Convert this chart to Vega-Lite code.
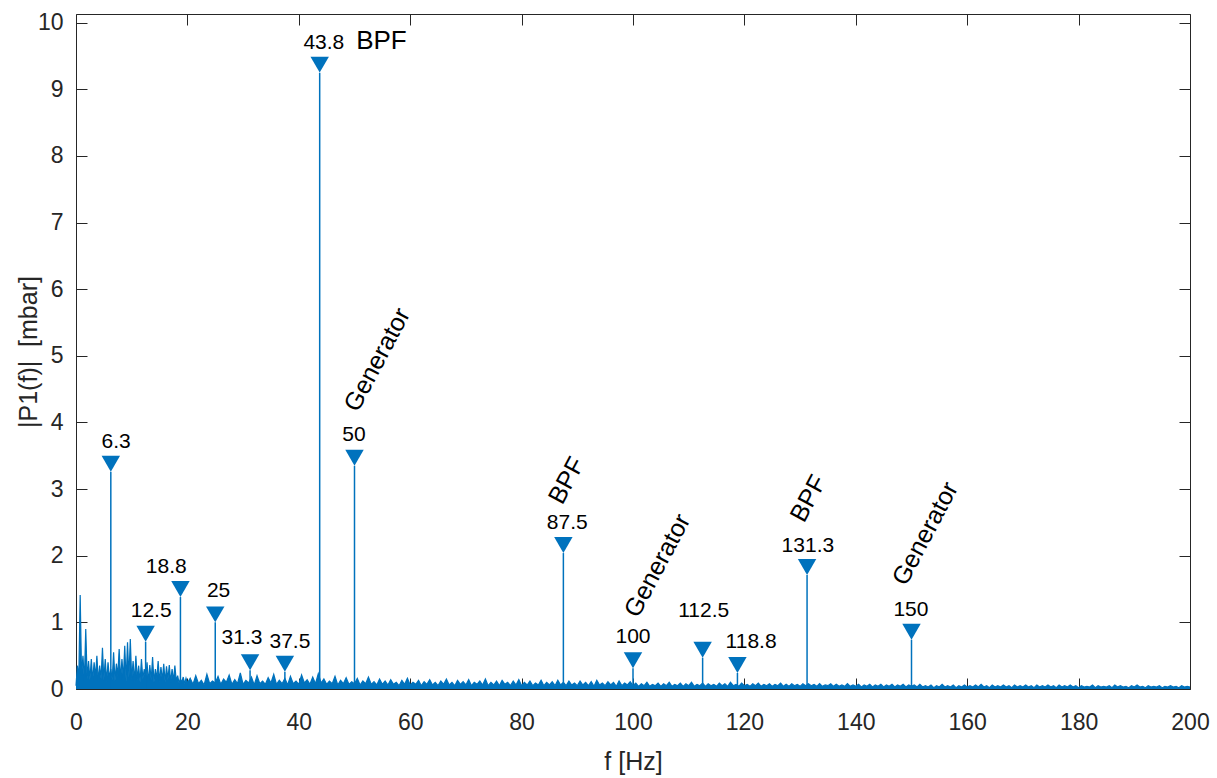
{
  "$schema": "https://vega.github.io/schema/vega-lite/v6.json",
  "width": 1114,
  "height": 675,
  "autosize": {"type": "none"},
  "padding": {"left": 76, "top": 14, "right": 27, "bottom": 89},
  "background": "white",
  "config": {
    "view": {"stroke": null},
    "font": "Liberation Sans",
    "axis": {
      "domainColor": "#262626",
      "tickColor": "#262626",
      "labelColor": "#262626",
      "titleColor": "#262626",
      "domainWidth": 1,
      "tickWidth": 1,
      "tickSize": -11,
      "grid": false,
      "labelFontSize": 23,
      "titleFontSize": 25,
      "titleFontWeight": "normal",
      "labelFlush": false,
      "labelOverlap": false
    }
  },
  "datasets": {
    "spectrum": [
      {"f":0,"p":0.05},{"f":0.25,"p":0.35},{"f":0.5,"p":0.15},{"f":0.75,"p":1.41},{"f":1,"p":0.2},{"f":1.25,"p":0.5},{"f":1.5,"p":0.12},{"f":1.75,"p":0.9},{"f":2,"p":0.15},{"f":2.25,"p":0.42},{"f":2.5,"p":0.14},{"f":2.75,"p":0.45},{"f":3,"p":0.12},{"f":3.25,"p":0.4},{"f":3.5,"p":0.18},{"f":3.75,"p":0.5},{"f":4,"p":0.12},{"f":4.25,"p":0.35},{"f":4.5,"p":0.15},{"f":4.75,"p":0.62},{"f":5,"p":0.13},{"f":5.25,"p":0.45},{"f":5.5,"p":0.11},{"f":5.75,"p":0.4},{"f":6,"p":0.16},{"f":6.25,"p":0.3},{"f":6.5,"p":0.13},{"f":6.75,"p":0.55},{"f":7,"p":0.12},{"f":7.25,"p":0.38},{"f":7.5,"p":0.2},{"f":7.75,"p":0.6},{"f":8,"p":0.13},{"f":8.25,"p":0.45},{"f":8.5,"p":0.15},{"f":8.75,"p":0.65},{"f":9,"p":0.11},{"f":9.25,"p":0.7},{"f":9.5,"p":0.17},{"f":9.75,"p":0.75},{"f":10,"p":0.13},{"f":10.25,"p":0.42},{"f":10.5,"p":0.11},{"f":10.75,"p":0.5},{"f":11,"p":0.14},{"f":11.25,"p":0.35},{"f":11.5,"p":0.1},{"f":11.75,"p":0.45},{"f":12,"p":0.15},{"f":12.25,"p":0.3},{"f":12.5,"p":0.12},{"f":12.75,"p":0.4},{"f":13,"p":0.1},{"f":13.25,"p":0.36},{"f":13.5,"p":0.13},{"f":13.75,"p":0.48},{"f":14,"p":0.1},{"f":14.25,"p":0.3},{"f":14.5,"p":0.15},{"f":14.75,"p":0.42},{"f":15,"p":0.11},{"f":15.25,"p":0.33},{"f":15.5,"p":0.13},{"f":15.75,"p":0.38},{"f":16,"p":0.1},{"f":16.25,"p":0.34},{"f":16.5,"p":0.14},{"f":16.75,"p":0.36},{"f":17,"p":0.1},{"f":17.25,"p":0.3},{"f":17.5,"p":0.12},{"f":17.75,"p":0.35},{"f":18,"p":0.12},{"f":18.25,"p":0.2},{"f":18.5,"p":0.09},{"f":18.75,"p":0.15},{"f":19,"p":0.1},{"f":19.25,"p":0.18},{"f":19.5,"p":0.08},{"f":19.75,"p":0.16},{"f":20,"p":0.09},
      {"f":20.5,"p":0.16},{"f":21,"p":0.07},{"f":21.5,"p":0.2},{"f":22,"p":0.08},{"f":22.5,"p":0.13},{"f":23,"p":0.06},{"f":23.5,"p":0.22},{"f":24,"p":0.08},{"f":24.5,"p":0.12},{"f":25,"p":0.09},{"f":25.5,"p":0.19},{"f":26,"p":0.07},{"f":26.5,"p":0.15},{"f":27,"p":0.1},{"f":27.5,"p":0.21},{"f":28,"p":0.07},{"f":28.5,"p":0.14},{"f":29,"p":0.08},{"f":29.5,"p":0.24},{"f":30,"p":0.07},{"f":30.5,"p":0.13},{"f":31,"p":0.09},{"f":31.5,"p":0.18},{"f":32,"p":0.06},{"f":32.5,"p":0.2},{"f":33,"p":0.08},{"f":33.5,"p":0.12},{"f":34,"p":0.07},{"f":34.5,"p":0.17},{"f":35,"p":0.09},{"f":35.5,"p":0.22},{"f":36,"p":0.07},{"f":36.5,"p":0.13},{"f":37,"p":0.08},{"f":37.5,"p":0.16},{"f":38,"p":0.06},{"f":38.5,"p":0.19},{"f":39,"p":0.08},{"f":39.5,"p":0.12},{"f":40,"p":0.07},{"f":40.5,"p":0.21},{"f":41,"p":0.09},{"f":41.5,"p":0.14},{"f":42,"p":0.07},{"f":42.5,"p":0.18},{"f":43,"p":0.08},{"f":43.5,"p":0.23},{"f":44,"p":0.09},{"f":44.5,"p":0.15},{"f":45,"p":0.07},{"f":45.5,"p":0.12},{"f":46,"p":0.08},{"f":46.5,"p":0.19},{"f":47,"p":0.06},{"f":47.5,"p":0.13},{"f":48,"p":0.08},{"f":48.5,"p":0.17},{"f":49,"p":0.07},{"f":49.5,"p":0.11},{"f":50,"p":0.08},{"f":50.5,"p":0.16},{"f":51,"p":0.06},{"f":51.5,"p":0.12},{"f":52,"p":0.08},{"f":52.5,"p":0.18},{"f":53,"p":0.07},{"f":53.5,"p":0.11},{"f":54,"p":0.06},{"f":54.5,"p":0.15},{"f":55,"p":0.07},
      {"f":55.5,"p":0.12},{"f":56,"p":0.06},{"f":56.5,"p":0.14},{"f":57,"p":0.07},{"f":57.5,"p":0.1},{"f":58,"p":0.05},{"f":58.5,"p":0.13},{"f":59,"p":0.07},{"f":59.5,"p":0.16},{"f":60,"p":0.06},{"f":60.5,"p":0.1},{"f":61,"p":0.07},{"f":61.5,"p":0.13},{"f":62,"p":0.05},{"f":62.5,"p":0.11},{"f":63,"p":0.07},{"f":63.5,"p":0.14},{"f":64,"p":0.06},{"f":64.5,"p":0.1},{"f":65,"p":0.05},{"f":65.5,"p":0.12},{"f":66,"p":0.07},{"f":66.5,"p":0.15},{"f":67,"p":0.06},{"f":67.5,"p":0.1},{"f":68,"p":0.05},{"f":68.5,"p":0.13},{"f":69,"p":0.07},{"f":69.5,"p":0.11},{"f":70,"p":0.06},{"f":70.5,"p":0.14},{"f":71,"p":0.05},{"f":71.5,"p":0.1},{"f":72,"p":0.07},{"f":72.5,"p":0.12},{"f":73,"p":0.06},{"f":73.5,"p":0.15},{"f":74,"p":0.05},{"f":74.5,"p":0.1},{"f":75,"p":0.06},{"f":75.5,"p":0.12},{"f":76,"p":0.05},{"f":76.5,"p":0.13},{"f":77,"p":0.07},{"f":77.5,"p":0.1},{"f":78,"p":0.05},{"f":78.5,"p":0.12},{"f":79,"p":0.06},{"f":79.5,"p":0.14},{"f":80,"p":0.05},{"f":80.5,"p":0.1},{"f":81,"p":0.06},{"f":81.5,"p":0.12},{"f":82,"p":0.05},{"f":82.5,"p":0.09},{"f":83,"p":0.06},{"f":83.5,"p":0.13},{"f":84,"p":0.05},{"f":84.5,"p":0.1},{"f":85,"p":0.06},{"f":85.5,"p":0.11},{"f":86,"p":0.05},{"f":86.5,"p":0.13},{"f":87,"p":0.06},{"f":87.5,"p":0.1},{"f":88,"p":0.05},{"f":88.5,"p":0.12},{"f":89,"p":0.06},{"f":89.5,"p":0.09},{"f":90,"p":0.05},{"f":90.5,"p":0.12},{"f":91,"p":0.06},{"f":91.5,"p":0.1},{"f":92,"p":0.05},{"f":92.5,"p":0.11},{"f":93,"p":0.04},{"f":93.5,"p":0.13},{"f":94,"p":0.06},{"f":94.5,"p":0.09},{"f":95,"p":0.05},{"f":95.5,"p":0.11},{"f":96,"p":0.06},{"f":96.5,"p":0.1},{"f":97,"p":0.04},{"f":97.5,"p":0.12},{"f":98,"p":0.05},{"f":98.5,"p":0.09},{"f":99,"p":0.06},{"f":99.5,"p":0.11},{"f":100,"p":0.05},
      {"f":100.5,"p":0.09},{"f":101,"p":0.04},{"f":101.5,"p":0.08},{"f":102,"p":0.05},{"f":102.5,"p":0.1},{"f":103,"p":0.04},{"f":103.5,"p":0.07},{"f":104,"p":0.05},{"f":104.5,"p":0.09},{"f":105,"p":0.04},{"f":105.5,"p":0.08},{"f":106,"p":0.05},{"f":106.5,"p":0.1},{"f":107,"p":0.04},{"f":107.5,"p":0.07},{"f":108,"p":0.05},{"f":108.5,"p":0.09},{"f":109,"p":0.04},{"f":109.5,"p":0.08},{"f":110,"p":0.05},{"f":110.5,"p":0.1},{"f":111,"p":0.04},{"f":111.5,"p":0.07},{"f":112,"p":0.05},{"f":112.5,"p":0.09},{"f":113,"p":0.04},{"f":113.5,"p":0.08},{"f":114,"p":0.05},{"f":114.5,"p":0.07},{"f":115,"p":0.04},{"f":115.5,"p":0.09},{"f":116,"p":0.05},{"f":116.5,"p":0.08},{"f":117,"p":0.04},{"f":117.5,"p":0.1},{"f":118,"p":0.05},{"f":118.5,"p":0.07},{"f":119,"p":0.04},{"f":119.5,"p":0.09},{"f":120,"p":0.05},{"f":120.5,"p":0.07},{"f":121,"p":0.04},{"f":121.5,"p":0.08},{"f":122,"p":0.05},{"f":122.5,"p":0.09},{"f":123,"p":0.04},{"f":123.5,"p":0.07},{"f":124,"p":0.05},{"f":124.5,"p":0.08},{"f":125,"p":0.04},{"f":125.5,"p":0.07},{"f":126,"p":0.05},{"f":126.5,"p":0.09},{"f":127,"p":0.04},{"f":127.5,"p":0.07},{"f":128,"p":0.04},{"f":128.5,"p":0.08},{"f":129,"p":0.05},{"f":129.5,"p":0.07},{"f":130,"p":0.04},{"f":130.5,"p":0.08},{"f":131,"p":0.05},{"f":131.5,"p":0.08},{"f":132,"p":0.05},{"f":132.5,"p":0.07},{"f":133,"p":0.04},{"f":133.5,"p":0.08},{"f":134,"p":0.04},{"f":134.5,"p":0.06},{"f":135,"p":0.05},{"f":135.5,"p":0.08},{"f":136,"p":0.04},{"f":136.5,"p":0.07},{"f":137,"p":0.04},{"f":137.5,"p":0.06},{"f":138,"p":0.04},{"f":138.5,"p":0.08},{"f":139,"p":0.04},{"f":139.5,"p":0.06},{"f":140,"p":0.04},{"f":140.5,"p":0.07},{"f":141,"p":0.03},{"f":141.5,"p":0.06},{"f":142,"p":0.04},{"f":142.5,"p":0.07},{"f":143,"p":0.03},{"f":143.5,"p":0.06},{"f":144,"p":0.04},{"f":144.5,"p":0.07},{"f":145,"p":0.03},{"f":145.5,"p":0.06},{"f":146,"p":0.04},{"f":146.5,"p":0.07},{"f":147,"p":0.03},{"f":147.5,"p":0.06},{"f":148,"p":0.04},{"f":148.5,"p":0.07},{"f":149,"p":0.03},{"f":149.5,"p":0.06},{"f":150,"p":0.04},
      {"f":150.5,"p":0.06},{"f":151,"p":0.03},{"f":151.5,"p":0.07},{"f":152,"p":0.03},{"f":152.5,"p":0.05},{"f":153,"p":0.03},{"f":153.5,"p":0.06},{"f":154,"p":0.02},{"f":154.5,"p":0.05},{"f":155,"p":0.03},{"f":155.5,"p":0.07},{"f":156,"p":0.03},{"f":156.5,"p":0.05},{"f":157,"p":0.03},{"f":157.5,"p":0.06},{"f":158,"p":0.02},{"f":158.5,"p":0.05},{"f":159,"p":0.03},{"f":159.5,"p":0.06},{"f":160,"p":0.03},{"f":160.5,"p":0.05},{"f":161,"p":0.03},{"f":161.5,"p":0.06},{"f":162,"p":0.03},{"f":162.5,"p":0.07},{"f":163,"p":0.03},{"f":163.5,"p":0.05},{"f":164,"p":0.02},{"f":164.5,"p":0.06},{"f":165,"p":0.03},{"f":165.5,"p":0.05},{"f":166,"p":0.03},{"f":166.5,"p":0.06},{"f":167,"p":0.03},{"f":167.5,"p":0.05},{"f":168,"p":0.02},{"f":168.5,"p":0.06},{"f":169,"p":0.03},{"f":169.5,"p":0.05},{"f":170,"p":0.03},{"f":170.5,"p":0.06},{"f":171,"p":0.03},{"f":171.5,"p":0.05},{"f":172,"p":0.02},{"f":172.5,"p":0.06},{"f":173,"p":0.03},{"f":173.5,"p":0.05},{"f":174,"p":0.03},{"f":174.5,"p":0.06},{"f":175,"p":0.03},{"f":175.5,"p":0.05},{"f":176,"p":0.02},{"f":176.5,"p":0.06},{"f":177,"p":0.03},{"f":177.5,"p":0.05},{"f":178,"p":0.03},{"f":178.5,"p":0.06},{"f":179,"p":0.03},{"f":179.5,"p":0.05},{"f":180,"p":0.02},{"f":180.5,"p":0.05},{"f":181,"p":0.03},{"f":181.5,"p":0.04},{"f":182,"p":0.03},{"f":182.5,"p":0.06},{"f":183,"p":0.02},{"f":183.5,"p":0.05},{"f":184,"p":0.03},{"f":184.5,"p":0.04},{"f":185,"p":0.03},{"f":185.5,"p":0.05},{"f":186,"p":0.02},{"f":186.5,"p":0.06},{"f":187,"p":0.03},{"f":187.5,"p":0.05},{"f":188,"p":0.03},{"f":188.5,"p":0.04},{"f":189,"p":0.02},{"f":189.5,"p":0.05},{"f":190,"p":0.03},{"f":190.5,"p":0.06},{"f":191,"p":0.03},{"f":191.5,"p":0.04},{"f":192,"p":0.02},{"f":192.5,"p":0.05},{"f":193,"p":0.03},{"f":193.5,"p":0.04},{"f":194,"p":0.03},{"f":194.5,"p":0.05},{"f":195,"p":0.02},{"f":195.5,"p":0.04},{"f":196,"p":0.03},{"f":196.5,"p":0.05},{"f":197,"p":0.03},{"f":197.5,"p":0.04},{"f":198,"p":0.02},{"f":198.5,"p":0.05},{"f":199,"p":0.03},{"f":199.5,"p":0.04},{"f":200,"p":0.03}
    ],
    "peaks": [
      {"f":6.25,"p":3.26},{"f":12.5,"p":0.71},{"f":18.75,"p":1.38},{"f":25,"p":1.0},{"f":31.25,"p":0.28},{"f":37.5,"p":0.26},{"f":43.75,"p":9.25},{"f":50,"p":3.35},{"f":87.5,"p":2.04},{"f":100,"p":0.31},{"f":112.5,"p":0.47},{"f":118.75,"p":0.24},{"f":131.25,"p":1.71},{"f":150,"p":0.74}
    ],
    "numlabels": [
      {"x":7.2,"y":3.62,"t":"6.3"},{"x":13.5,"y":1.08,"t":"12.5"},{"x":16.2,"y":1.74,"t":"18.8"},{"x":25.6,"y":1.38,"t":"25"},{"x":29.8,"y":0.68,"t":"31.3"},{"x":38.4,"y":0.62,"t":"37.5"},{"x":44.5,"y":9.61,"t":"43.8"},{"x":49.9,"y":3.72,"t":"50"},{"x":88.2,"y":2.4,"t":"87.5"},{"x":100,"y":0.69,"t":"100"},{"x":112.7,"y":1.08,"t":"112.5"},{"x":121.2,"y":0.62,"t":"118.8"},{"x":131.4,"y":2.06,"t":"131.3"},{"x":149.9,"y":1.1,"t":"150"}
    ],
    "toplabel": [{"x":50.3,"y":9.61,"t":"BPF"}],
    "rotlabels": [
      {"x":50.6,"y":4.14,"t":"Generator"},{"x":87.3,"y":2.75,"t":"BPF"},{"x":100.9,"y":1.05,"t":"Generator"},{"x":130.7,"y":2.48,"t":"BPF"},{"x":149.0,"y":1.53,"t":"Generator"}
    ]
  },
  "layer": [
    {
      "data": {"name": "spectrum"},
      "mark": {"type": "area", "color": "#0072BD", "opacity": 1},
      "encoding": {
        "x": {"field": "f", "type": "quantitative", "scale": {"domain": [0, 200], "nice": false},
              "axis": {"orient": "bottom", "values": [0,20,40,60,80,100,120,140,160,180,200], "title": "f [Hz]", "labelPadding": 33, "titlePadding": 15}},
        "y": {"field": "p", "type": "quantitative", "scale": {"domain": [0, 10.13], "nice": false},
              "axis": {"orient": "left", "values": [0,1,2,3,4,5,6,7,8,9,10], "title": "|P1(f)|\u00a0\u00a0[mbar]", "labelPadding": 24, "titlePadding": -4}}
      }
    },
    {
      "data": {"name": "spectrum"},
      "mark": {"type": "line", "color": "#0072BD", "strokeWidth": 1.2},
      "encoding": {
        "x": {"field": "f", "type": "quantitative", "axis": null},
        "y": {"field": "p", "type": "quantitative", "axis": null}
      }
    },
    {
      "data": {"name": "peaks"},
      "mark": {"type": "rule", "color": "#0072BD", "strokeWidth": 1.5},
      "encoding": {
        "x": {"field": "f", "type": "quantitative", "scale": {"domain": [0, 200], "nice": false},
              "axis": {"orient": "top", "values": [0,20,40,60,80,100,120,140,160,180,200], "labels": false, "title": null}},
        "y": {"field": "p", "type": "quantitative", "scale": {"domain": [0, 10.13], "nice": false},
              "axis": {"orient": "right", "values": [0,1,2,3,4,5,6,7,8,9,10], "labels": false, "title": null}},
        "y2": {"datum": 0}
      }
    },
    {
      "data": {"name": "peaks"},
      "mark": {"type": "point", "shape": "triangle-down", "filled": true, "opacity": 1, "color": "#0072BD", "size": 340, "yOffset": -8},
      "encoding": {
        "x": {"field": "f", "type": "quantitative", "axis": null},
        "y": {"field": "p", "type": "quantitative", "axis": null}
      }
    },
    {
      "data": {"name": "numlabels"},
      "mark": {"type": "text", "fontSize": 21, "color": "#000000", "align": "center", "baseline": "alphabetic"},
      "encoding": {
        "x": {"field": "x", "type": "quantitative", "axis": null},
        "y": {"field": "y", "type": "quantitative", "axis": null},
        "text": {"field": "t"}
      }
    },
    {
      "data": {"name": "toplabel"},
      "mark": {"type": "text", "fontSize": 26, "color": "#000000", "align": "left", "baseline": "alphabetic"},
      "encoding": {
        "x": {"field": "x", "type": "quantitative", "axis": null},
        "y": {"field": "y", "type": "quantitative", "axis": null},
        "text": {"field": "t"}
      }
    },
    {
      "data": {"name": "rotlabels"},
      "mark": {"type": "text", "fontSize": 25, "color": "#000000", "align": "left", "baseline": "alphabetic", "angle": -62},
      "encoding": {
        "x": {"field": "x", "type": "quantitative", "axis": null},
        "y": {"field": "y", "type": "quantitative", "axis": null},
        "text": {"field": "t"}
      }
    }
  ],
  "resolve": {"axis": {"x": "independent", "y": "independent"}}
}
